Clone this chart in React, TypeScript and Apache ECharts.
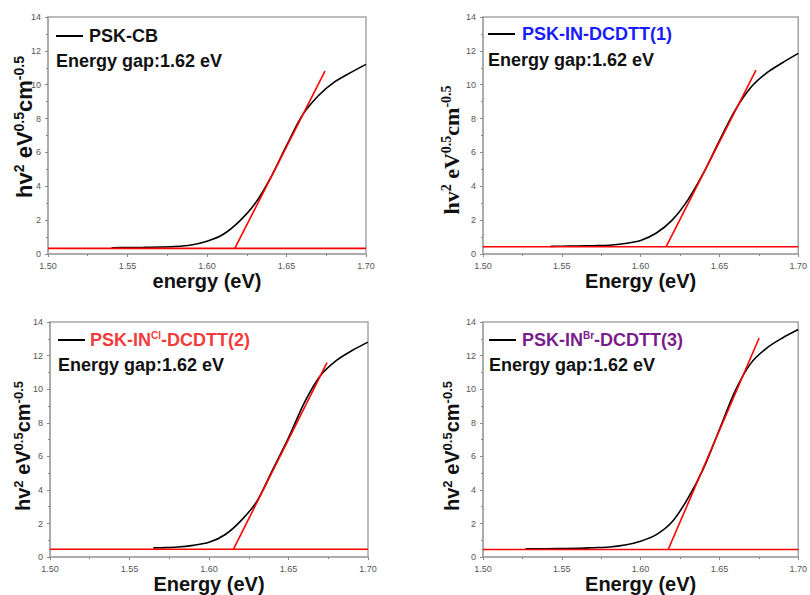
import React, { useEffect, useRef } from "react";
import * as echarts from "echarts";

// ---- data ----
const xTickValues = [1.5, 1.55, 1.6, 1.65, 1.7];
const yTickMax = 14;

const energyCB = [1.54, 1.55, 1.56, 1.57, 1.58, 1.59, 1.6, 1.61, 1.62, 1.63, 1.64, 1.65, 1.66, 1.67, 1.68, 1.69, 1.7];
const valuesCB = [0.37, 0.38, 0.39, 0.41, 0.44, 0.53, 0.75, 1.15, 1.9, 2.95, 4.5, 6.4, 8.2, 9.35, 10.15, 10.7, 11.2];
const baseCB = 0.33;
const tangentCB = [[1.6175, 0.33], [1.6742, 10.8]];

const energyIN1 = [1.543, 1.55, 1.56, 1.57, 1.58, 1.59, 1.6, 1.61, 1.62, 1.63, 1.64, 1.65, 1.66, 1.67, 1.68, 1.69, 1.7];
const valuesIN1 = [0.45, 0.46, 0.47, 0.49, 0.52, 0.62, 0.8, 1.24, 2.0, 3.2, 4.8, 6.7, 8.5, 9.85, 10.7, 11.3, 11.85];
const baseIN1 = 0.43;
const tangentIN1 = [[1.6162, 0.43], [1.6732, 10.86]];

const energyIN2 = [1.565, 1.57, 1.58, 1.59, 1.6, 1.61, 1.62, 1.63, 1.64, 1.65, 1.66, 1.67, 1.68, 1.69, 1.7];
const valuesIN2 = [0.55, 0.56, 0.6, 0.7, 0.88, 1.33, 2.16, 3.3, 5.2, 7.1, 9.2, 10.8, 11.7, 12.3, 12.8];
const baseIN2 = 0.47;
const tangentIN2 = [[1.6154, 0.47], [1.6742, 11.58]];

const energyIN3 = [1.527, 1.54, 1.55, 1.56, 1.57, 1.58, 1.59, 1.6, 1.61, 1.62, 1.63, 1.64, 1.65, 1.66, 1.67, 1.68, 1.69, 1.7];
const valuesIN3 = [0.5, 0.5, 0.51, 0.52, 0.56, 0.6, 0.72, 0.95, 1.34, 2.1, 3.5, 5.3, 7.6, 9.9, 11.55, 12.45, 13.05, 13.55];
const baseIN3 = 0.45;
const tangentIN3 = [[1.6175, 0.45], [1.6752, 13.05]];

const xAxisNames = ["energy (eV)", "Energy (eV)", "Energy (eV)", "Energy (eV)"];
const gapText = "Energy gap:1.62 eV";
const sampleTitles = [
  "{t|PSK-CB}",
  "{t|PSK-IN-DCDTT(1)}",
  "{t|PSK-IN}{s|Cl}{t|-DCDTT(2)}",
  "{t|PSK-IN}{s|Br}{t|-DCDTT(3)}",
];
const titleColors = ["#111111", "#1a1aff", "#f23c3c", "#7a1c8c"];

const panels = [
  { x: energyCB, y: valuesCB, base: baseCB, tan: tangentCB },
  { x: energyIN1, y: valuesIN1, base: baseIN1, tan: tangentIN1 },
  { x: energyIN2, y: valuesIN2, base: baseIN2, tan: tangentIN2 },
  { x: energyIN3, y: valuesIN3, base: baseIN3, tan: tangentIN3 },
];

// ---- layout ----
const grids = [
  { left: 48, top: 17, width: 318, height: 237 },
  { left: 483, top: 17, width: 318, height: 237 },
  { left: 50, top: 322, width: 318, height: 238 },
  { left: 483, top: 322, width: 318, height: 237 },
];
const legendPos = [
  { lx: 56, ly: 36, tx: 89, gy: 61 },
  { lx: 488, ly: 34, tx: 522, gy: 60 },
  { lx: 58, ly: 340, tx: 90, gy: 365 },
  { lx: 489, ly: 340, tx: 522, gy: 365 },
];
const yLabelPos = [
  { x: 24, y: 127, serif: false, size: 22, sup: 14 },
  { x: 451, y: 150, serif: true, size: 22, sup: 14 },
  { x: 23, y: 446, serif: false, size: 20, sup: 13 },
  { x: 452, y: 446, serif: false, size: 20, sup: 13 },
];

const AXIS_GREY = "#a6a6a6";
const SANS = "Liberation Sans, Arial, sans-serif";
const SERIF = "Liberation Serif, Times New Roman, serif";

export default function App() {
  const ref = useRef<HTMLDivElement>(null);

  useEffect(() => {
    if (!ref.current) return;
    const chart = echarts.init(ref.current, undefined, { renderer: "svg" });

    const series: any[] = [];
    panels.forEach((p, i) => {
      series.push({
        type: "line",
        xAxisIndex: i,
        yAxisIndex: i,
        data: p.x.map((xv, k) => [xv, p.y[k]]),
        symbol: "none",
        smooth: 0.3,
        lineStyle: { color: "#000", width: 1.6 },
        z: 2,
      });
      series.push({
        type: "line",
        xAxisIndex: i,
        yAxisIndex: i,
        data: [[xTickValues[0], p.base], [xTickValues[xTickValues.length - 1], p.base]],
        symbol: "none",
        lineStyle: { color: "#ff0000", width: 1.6 },
        z: 3,
      });
      series.push({
        type: "line",
        xAxisIndex: i,
        yAxisIndex: i,
        data: p.tan,
        symbol: "none",
        lineStyle: { color: "#ff0000", width: 1.6 },
        z: 3,
      });
    });

    const graphics: any[] = [];
    legendPos.forEach((lp, i) => {
      graphics.push({
        type: "line",
        shape: { x1: lp.lx, y1: lp.ly, x2: lp.lx + 27, y2: lp.ly },
        style: { stroke: "#000", lineWidth: 2 },
      });
      graphics.push({
        type: "text",
        x: lp.tx,
        y: lp.ly,
        style: {
          text: sampleTitles[i],
          align: "left",
          verticalAlign: "middle",
          rich: {
            t: { fontFamily: SANS, fontWeight: "bold", fontSize: 18, fill: titleColors[i], lineHeight: 20 },
            s: { fontFamily: SANS, fontWeight: "bold", fontSize: 10, fill: titleColors[i], lineHeight: 12, verticalAlign: "top" },
          },
        },
      });
      graphics.push({
        type: "text",
        x: lp.lx,
        y: lp.gy,
        style: {
          text: gapText,
          fill: "#111",
          fontFamily: SANS,
          fontWeight: "bold",
          fontSize: 18,
          align: "left",
          verticalAlign: "middle",
        },
      });
    });
    yLabelPos.forEach((yp) => {
      const fam = yp.serif ? SERIF : SANS;
      graphics.push({
        type: "text",
        x: yp.x,
        y: yp.y,
        rotation: Math.PI / 2,
        style: {
          text: "{m|hv}{s|2}{m| eV}{s|0.5}{m|cm}{s|-0.5}",
          align: "center",
          verticalAlign: "middle",
          rich: {
            m: { fontFamily: fam, fontWeight: "bold", fontSize: yp.size, fill: "#111", lineHeight: yp.size + 2 },
            s: { fontFamily: fam, fontWeight: "bold", fontSize: yp.sup, fill: "#111", lineHeight: yp.sup, verticalAlign: "top" },
          },
        },
      });
    });

    const option: any = {
      animation: false,
      grid: grids.map((g) => ({
        ...g,
        show: true,
        borderColor: AXIS_GREY,
        borderWidth: 1.5,
        backgroundColor: "transparent",
        containLabel: false,
      })),
      xAxis: grids.map((_, i) => ({
        gridIndex: i,
        type: "value",
        min: xTickValues[0],
        max: xTickValues[xTickValues.length - 1],
        interval: 0.05,
        name: xAxisNames[i],
        nameLocation: "middle",
        nameGap: 14,
        nameTextStyle: { fontFamily: SANS, fontWeight: "bold", fontSize: 20, color: "#111", verticalAlign: "top" },
        axisLine: { show: true, lineStyle: { color: AXIS_GREY, width: 1.5 } },
        axisTick: { show: true, inside: false, length: 3, lineStyle: { color: "#888" } },
        minorTick: { show: true, splitNumber: 2, length: 2, lineStyle: { color: "#888" } },
        axisLabel: { fontFamily: SANS, fontSize: 9, color: "#555", margin: 7, formatter: (v: number) => v.toFixed(2) },
        splitLine: { show: false },
        minorSplitLine: { show: false },
      })),
      yAxis: grids.map((_, i) => ({
        gridIndex: i,
        type: "value",
        min: 0,
        max: yTickMax,
        interval: 2,
        axisLine: { show: true, lineStyle: { color: AXIS_GREY, width: 1.5 } },
        axisTick: { show: true, inside: false, length: 3, lineStyle: { color: "#888" } },
        minorTick: { show: true, splitNumber: 2, length: 2, lineStyle: { color: "#888" } },
        axisLabel: { fontFamily: SANS, fontSize: 9, color: "#555", margin: 7 },
        splitLine: { show: false },
        minorSplitLine: { show: false },
      })),
      series,
      graphic: graphics,
    };

    chart.setOption(option);
    return () => chart.dispose();
  }, []);

  return (
    <div
      ref={ref}
      style={{ position: "fixed", left: 0, top: 0, width: 810, height: 595, background: "#fff" }}
    />
  );
}
